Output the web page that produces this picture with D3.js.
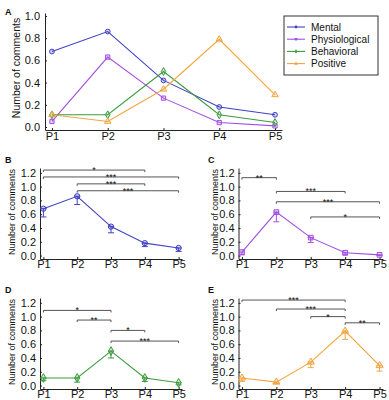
<!DOCTYPE html>
<html lang="en">
<head>
<meta charset="UTF-8">
<title>Comments by phase</title>
<script src="https://d3js.org/d3.v7.min.js"></script>
<style>
    body { margin: 0; background: #fff; }
    text { font-family: "Liberation Sans", Arial, sans-serif; fill: #111; }
    .tick text { font-size: 11px; }
    .axis-title { font-size: 9.5px; text-anchor: middle; }
    .panel-label { font-size: 9px; font-weight: bold; }
    .legend-label { font-size: 10px; }
    .stars { font-size: 9px; text-anchor: middle; }
</style>
</head>
<body>
<script>
    let phases = ["P1", "P2", "P3", "P4", "P5"];
    let seriesNames = ["Mental", "Physiological", "Behavioral", "Positive"];

    // mean number of comments per phase
    let mental = [0.68, 0.86, 0.42, 0.18, 0.11];
    let physiological = [0.05, 0.63, 0.26, 0.04, 0.01];
    let behavioral = [0.11, 0.11, 0.50, 0.11, 0.04];
    let positive = [0.11, 0.05, 0.34, 0.79, 0.29];

    // lower end of error bars (only drawn downward)
    let mentalLow = [0.56, 0.74, 0.33, 0.13, 0.06];
    let physiologicalLow = [0.01, 0.49, 0.19, 0.01, 0.0];
    let behavioralLow = [0.07, 0.05, 0.40, 0.06, 0.01];
    let positiveLow = [0.06, 0.03, 0.26, 0.67, 0.21];

    // significance brackets: [from, to, height, stars]
    let mentalSig = [["P1", "P4", 1.24, "*"], ["P1", "P5", 1.14, "***"], ["P2", "P4", 1.04, "***"], ["P2", "P5", 0.94, "***"]];
    let physiologicalSig = [["P1", "P2", 1.13, "**"], ["P2", "P4", 0.93, "***"], ["P2", "P5", 0.78, "***"], ["P3", "P5", 0.56, "*"]];
    let behavioralSig = [["P1", "P3", 1.09, "*"], ["P2", "P3", 0.95, "**"], ["P3", "P4", 0.80, "*"], ["P3", "P5", 0.645, "***"]];
    let positiveSig = [["P1", "P4", 1.24, "***"], ["P2", "P4", 1.11, "***"], ["P3", "P4", 1.0, "*"], ["P4", "P5", 0.91, "**"]];

    let yTicksA = [0, 0.2, 0.4, 0.6, 0.8, 1.0];
    let yTicksSmall = [0, 0.2, 0.4, 0.6, 0.8, 1.0, 1.2];

    let colors = ["#4242c4", "#a24fe4", "#3c9c3c", "#f2a53f"];
    let symbols = [d3.symbolCircle, d3.symbolSquare, d3.symbolDiamond, d3.symbolTriangle];

    let svg = d3.select("body").append("svg")
        .attr("width", 389)
        .attr("height", 400);

    svg.append("rect").attr("width", 389).attr("height", 400).attr("fill", "#fff");

    function styleAxis(g) {
        g.selectAll("path, line").attr("stroke", "#222").attr("stroke-width", 1);
        g.selectAll("text").attr("fill", "#111").style("font-family", "'Liberation Sans', Arial, sans-serif");
    }

    function drawMarkers(g, x, y, values, color, symbol, size) {
        g.selectAll(null)
            .data(values)
            .enter().append("path")
            .attr("d", d3.symbol().type(symbol).size(size))
            .attr("transform", (d, i) => "translate(" + x(phases[i]) + "," + y(d) + ")")
            .attr("fill", color)
            .attr("fill-opacity", 0.25)
            .attr("stroke", color)
            .attr("stroke-width", 1);
    }

    let line = (x, y) => d3.line().x((d, i) => x(phases[i])).y(d => y(d));

    // ---------- panel A ----------
    let xA = d3.scalePoint().domain(phases).range([45, 282]).padding(0.125);
    let yA = d3.scaleLinear().domain([-0.027, 1.027]).range([130, 13]);

    svg.append("g")
        .attr("transform", "translate(0,130)")
        .call(d3.axisBottom(xA).tickSizeInner(-2).tickSizeOuter(0).tickPadding(2))
        .call(styleAxis);
    svg.append("g")
        .attr("transform", "translate(45,0)")
        .call(d3.axisLeft(yA).tickValues(yTicksA).tickFormat(d3.format(".1f")).tickSizeInner(-2).tickSizeOuter(0).tickPadding(5))
        .call(styleAxis);

    svg.append("text").attr("class", "panel-label").attr("x", 5).attr("y", 15).text("A");
    svg.append("text").attr("class", "axis-title")
        .attr("transform", "translate(20,68) rotate(-90)")
        .style("font-size", "10.5px")
        .text("Number of comments");

    let allSeries = [mental, physiological, behavioral, positive];
    allSeries.forEach((vals, k) => {
        svg.append("path")
            .datum(vals)
            .attr("d", line(xA, yA))
            .attr("fill", "none")
            .attr("stroke", colors[k])
            .attr("stroke-width", 1.1);
    });
    allSeries.forEach((vals, k) => {
        drawMarkers(svg.append("g"), xA, yA, vals, colors[k], symbols[k], 18);
    });

    // legend
    let legend = svg.append("g").attr("transform", "translate(284,16)");
    legend.append("rect")
        .attr("width", 94).attr("height", 59)
        .attr("fill", "#fff").attr("stroke", "#333").attr("stroke-width", 1);
    seriesNames.forEach((name, k) => {
        let ly = 11 + k * 12.2;
        legend.append("line")
            .attr("x1", 3).attr("x2", 21).attr("y1", ly).attr("y2", ly)
            .attr("stroke", colors[k]).attr("stroke-width", 1.1);
        legend.append("path")
            .attr("d", d3.symbol().type(symbols[k]).size(6))
            .attr("transform", "translate(12," + ly + ")")
            .attr("fill", colors[k]);
        legend.append("text")
            .attr("class", "legend-label")
            .attr("x", 27).attr("y", ly)
            .attr("dy", "0.35em")
            .text(name);
    });

    // ---------- small panels B–E ----------
    function smallPanel(letter, ox, oy, xRange, vals, low, sig, k) {
        let g = svg.append("g").attr("transform", "translate(0," + oy + ")");
        let x = d3.scalePoint().domain(phases).range(xRange).padding(0.1);
        let y = d3.scaleLinear().domain([-0.05, 1.27]).range([259, 168]);

        g.append("g")
            .attr("transform", "translate(0,259)")
            .call(d3.axisBottom(x).tickSizeInner(-2).tickSizeOuter(0).tickPadding(1))
            .call(styleAxis);
        g.append("g")
            .attr("transform", "translate(" + xRange[0] + ",0)")
            .call(d3.axisLeft(y).tickValues(yTicksSmall).tickFormat(d3.format(".1f")).tickSizeInner(-2).tickSizeOuter(0).tickPadding(4))
            .call(styleAxis);

        g.append("text").attr("class", "panel-label").attr("x", ox + 5).attr("y", 163).text(letter);
        g.append("text").attr("class", "axis-title")
            .attr("transform", "translate(" + (ox + 15) + ",212) rotate(-90)")
            .style("font-size", "9px")
            .text("Number of comments");

        // significance brackets
        sig.forEach(s => {
            let x1 = x(s[0]), x2 = x(s[1]), yy = y(s[2]);
            g.append("path")
                .attr("d", "M" + x1 + "," + (yy + 2) + "V" + yy + "H" + x2 + "V" + (yy + 2))
                .attr("fill", "none")
                .attr("stroke", "#555")
                .attr("stroke-width", 1);
            g.append("text")
                .attr("class", "stars")
                .attr("x", (x1 + x2) / 2)
                .attr("y", yy + 3)
                .text(s[3]);
        });

        // error bars
        vals.forEach((v, i) => {
            let cx = x(phases[i]);
            g.append("line")
                .attr("x1", cx).attr("x2", cx)
                .attr("y1", y(low[i])).attr("y2", y(v))
                .attr("stroke", colors[k]).attr("stroke-width", 1);
            [low[i], v].forEach(e => {
                g.append("line")
                    .attr("x1", cx - 3).attr("x2", cx + 3)
                    .attr("y1", y(e)).attr("y2", y(e))
                    .attr("stroke", colors[k]).attr("stroke-width", 1);
            });
        });

        g.append("path")
            .datum(vals)
            .attr("d", line(x, y))
            .attr("fill", "none")
            .attr("stroke", colors[k])
            .attr("stroke-width", 1.1);
        drawMarkers(g, x, y, vals, colors[k], symbols[k], 22);
    }

    smallPanel("B", 0, 0, [40, 182], mental, mentalLow, mentalSig, 0);
    smallPanel("C", 203, 0, [238.5, 383], physiological, physiologicalLow, physiologicalSig, 1);
    smallPanel("D", 0, 130, [40, 182], behavioral, behavioralLow, behavioralSig, 2);
    smallPanel("E", 203, 130, [238.5, 383], positive, positiveLow, positiveSig, 3);
</script>
</body>
</html>
